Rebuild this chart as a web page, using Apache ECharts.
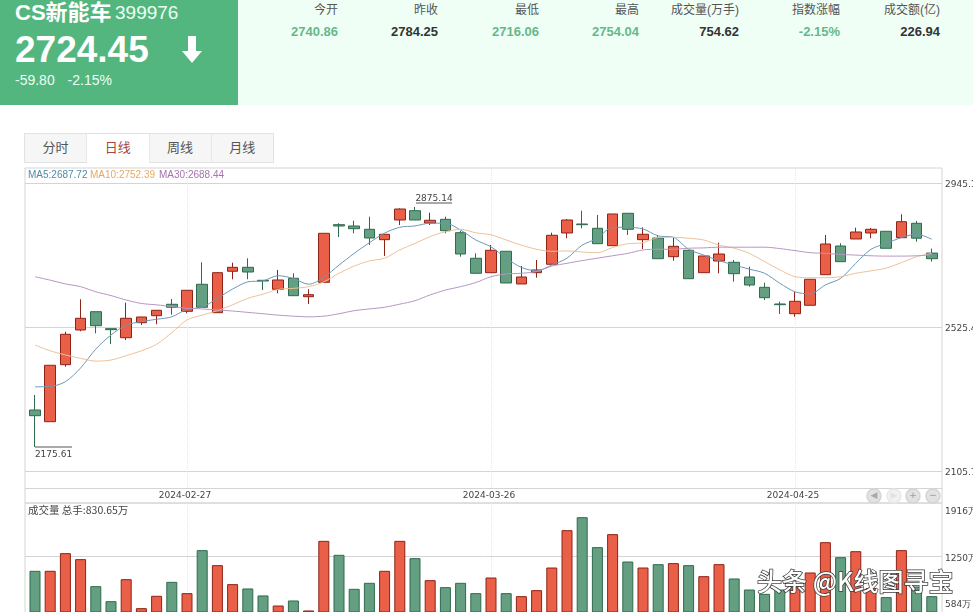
<!DOCTYPE html>
<html>
<head>
<meta charset="utf-8">
<title>CS新能车 399976</title>
<script src="https://cdn.jsdelivr.net/npm/echarts@6/dist/echarts.min.js"></script>
<style>
html, body { margin: 0; padding: 0; background: #fff; overflow: hidden; }
body { width: 973px; height: 612px; position: relative; font-family: "Liberation Sans", "Noto Sans CJK SC", sans-serif; }
#top { position: absolute; left: 0; top: 0; width: 973px; height: 105px; background: #effff5; }
#quote { position: absolute; left: 0; top: 0; width: 238px; height: 105px; background: #54b67f; color: #fff; }
#quote div, #quote svg { position: absolute; white-space: nowrap; }
#name { left: 15px; top: 1px; font-size: 22px; line-height: 24px; font-weight: bold; }
#code { left: 115px; top: 1px; font-size: 19px; line-height: 24px; color: #eafff2; }
#price { left: 15px; top: 29px; font-size: 37px; line-height: 42px; font-weight: bold; }
#change { left: 15px; top: 71px; font-size: 14px; line-height: 18px; color: #eafff2; word-spacing: 9px; }
.stat { position: absolute; top: 0; width: 100px; text-align: right; }
.stat .k { position: absolute; right: 0; top: 1px; font-size: 12px; line-height: 18px; color: #555; white-space: nowrap; }
.stat .v { position: absolute; right: 0; top: 23px; font-size: 13px; line-height: 18px; font-weight: bold; color: #333; }
.stat .v.down { color: #67b78c; }
#tabs { position: absolute; left: 24px; top: 133px; height: 28px; width: 248px; background: #f6f6f6; border: 1px solid #e2e2e2; display: flex; }
#tabs span { flex: 1; text-align: center; font-size: 13px; line-height: 28px; color: #555; border-right: 1px solid #e8e8e8; }
#tabs span:last-child { border-right: 0; }
#tabs span.on { background: #fff; color: #a8443c; height: 29px; }
#chart { position: absolute; left: 0; top: 0; width: 973px; height: 612px; }
</style>
</head>
<body>
<div id="top">
  <div id="quote">
    <div id="name">CS新能车</div>
    <div id="code">399976</div>
    <div id="price">2724.45</div>
    <svg style="left:181px;top:36px" width="22" height="28" viewBox="0 0 22 28"><path d="M7 0h8v15h6L11 27 1 15h6z" fill="#fff"/></svg>
    <div id="change">-59.80 -2.15%</div>
  </div>
  <div id="stats"></div>
</div>
<div id="tabs"><span>分时</span><span class="on">日线</span><span>周线</span><span>月线</span></div>
<div id="chart"></div>
<script>
var statNames = ['今开', '昨收', '最低', '最高', '成交量(万手)', '指数涨幅', '成交额(亿)'];
var statValues = ['2740.86', '2784.25', '2716.06', '2754.04', '754.62', '-2.15%', '226.94'];
var statDown = [true, false, true, true, false, true, false];
var statRight = [338, 438, 539, 639, 739, 840, 940];

var dates = ['2024-02-05','2024-02-06','2024-02-07','2024-02-08','2024-02-19','2024-02-20','2024-02-21','2024-02-22','2024-02-23','2024-02-26',
  '2024-02-27','2024-02-28','2024-02-29','2024-03-01','2024-03-04','2024-03-05','2024-03-06','2024-03-07','2024-03-08','2024-03-11',
  '2024-03-12','2024-03-13','2024-03-14','2024-03-15','2024-03-18','2024-03-19','2024-03-20','2024-03-21','2024-03-22','2024-03-25',
  '2024-03-26','2024-03-27','2024-03-28','2024-03-29','2024-04-01','2024-04-02','2024-04-03','2024-04-08','2024-04-09','2024-04-10',
  '2024-04-11','2024-04-12','2024-04-15','2024-04-16','2024-04-17','2024-04-18','2024-04-19','2024-04-22','2024-04-23','2024-04-24',
  '2024-04-25','2024-04-26','2024-04-29','2024-04-30','2024-05-06','2024-05-07','2024-05-08','2024-05-09','2024-05-10','2024-05-13'];
var labelDates = ['2024-02-27', '2024-03-26', '2024-04-25'];

// open, close, low, high
var candles = [
  [2283.5,2266.9,2175.61,2327.2],[2249.4,2413.8,2249.4,2413.8],[2415.6,2504.2,2409.7,2511.7],[2516.7,2550.8,2512.9,2606.2],
  [2570.0,2529.2,2507.1,2570.0],[2520.5,2517.6,2475.9,2520.5],[2494.2,2550.8,2487.5,2596.3],[2538.0,2554.6,2531.3,2554.6],
  [2558.4,2574.1,2533.3,2574.1],[2591.6,2582.9,2561.3,2607.0],[2571.2,2632.4,2565.4,2632.4],[2649.9,2582.9,2582.9,2714.0],
  [2567.1,2683.7,2567.1,2685.7],[2687.8,2699.4,2664.5,2712.8],[2699.4,2685.7,2664.5,2725.7],[2661.5,2659.5,2633.3,2662.4],
  [2635.3,2662.4,2623.6,2691.6],[2667.4,2616.7,2616.7,2681.9],[2613.7,2619.6,2592.5,2635.3],[2655.7,2798.5,2655.7,2798.5],
  [2823.6,2819.8,2787.7,2827.7],[2819.8,2811.9,2798.5,2835.2],[2810.2,2784.8,2764.4,2846.9],[2779.9,2795.6,2732.4,2795.6],
  [2837.3,2869.3,2822.7,2871.4],[2864.4,2837.3,2837.3,2875.14],[2828.5,2836.4,2822.7,2858.6],[2839.3,2806.1,2798.5,2846.9],
  [2800.3,2738.2,2730.3,2805.2],[2725.7,2681.9,2681.9,2740.2],[2683.7,2749.0,2683.7,2764.4],[2746.1,2653.7,2653.7,2746.1],
  [2650.8,2671.2,2650.8,2703.2],[2683.7,2691.6,2669.1,2720.7],[2708.2,2792.7,2708.2,2800.3],[2799.4,2837.3,2784.0,2840.2],
  [2825.6,2823.6,2813.1,2864.4],[2813.1,2768.2,2768.2,2851.9],[2762.4,2854.8,2762.4,2854.8],[2856.8,2810.2,2793.6,2856.8],
  [2779.9,2795.6,2752.8,2816.0],[2784.8,2724.5,2724.5,2793.6],[2730.3,2760.6,2718.7,2785.7],[2749.0,2666.2,2665.3,2749.0],
  [2683.7,2732.4,2683.7,2732.4],[2717.8,2738.2,2681.9,2771.1],[2714.0,2680.8,2657.5,2720.7],[2671.2,2647.8,2642.9,2701.2],
  [2641.1,2610.8,2604.1,2654.5],[2592.5,2590.4,2563.3,2599.2],[2564.2,2600.3,2555.5,2628.3],[2588.7,2664.5,2588.7,2664.5],
  [2677.9,2767.3,2677.9,2793.6],[2761.5,2715.8,2715.8,2769.4],[2781.9,2802.3,2781.9,2814.8],[2799.4,2810.2,2784.0,2814.0],
  [2804.4,2754.8,2754.8,2804.4],[2785.7,2832.3,2785.7,2853.9],[2827.7,2784.25,2774.0,2834.4],[2740.86,2724.45,2716.06,2754.04]
];

var ma5 = [2351,2352,2366,2406,2461,2502,2531,2541,2548,2555,2577,2583,2609,2636,2657,2660,2675,2667,2650,2670,
  2706,2740,2771,2799,2816,2820,2828,2828,2808,2779,2759,2726,2699,2689,2706,2726,2764,2784,2816,2816,
  2811,2791,2787,2752,2735,2719,2706,2694,2682,2653,2628,2622,2648,2667,2711,2752,2769,2786,2796,2781];
var ma10 = [2473,2456,2444,2434,2426,2429,2442,2456,2475,2509,2546,2560,2573,2590,2609,2621,2635,2638,2643,2657,
  2682,2703,2718,2726,2750,2769,2789,2803,2810,2800,2794,2779,2764,2752,2746,2747,2744,2742,2757,2768,
  2771,2786,2787,2784,2779,2764,2755,2740,2716,2692,2672,2669,2669,2672,2682,2689,2697,2713,2730,2740];
var ma30 = [2672,2662,2651,2643,2628,2617,2604,2594,2590,2585,2580,2578,2575,2572,2568,2564,2560,2557,2555,2557,
  2564,2573,2578,2583,2592,2602,2619,2633,2643,2655,2672,2680,2682,2687,2703,2711,2719,2726,2733,2740,
  2750,2752,2752,2755,2756,2758,2758,2758,2758,2754,2748,2742,2740,2737,2735,2733,2732,2732,2733,2736];

// 万手
var volumes = [1045,1045,1298,1212,825,610,925,510,687,887,725,1341,1126,854,792,692,548,620,477,1474,
  1274,787,873,1045,1474,1226,911,811,873,725,949,725,682,768,1092,1627,1813,1384,1570,1178,
  1092,1140,1155,1126,968,1140,935,777,715,777,844,1021,1455,1240,1326,797,668,1341,820,682];

var priceTicks = [2105.7, 2525.4, 2945.1];
var volumeTicks = [584, 1250, 1916];

var UP = '#ea5f48', UP_EDGE = '#8e2416', DOWN = '#639f80', DOWN_EDGE = '#2f6b4e';
var GRID_LINE = '#d4d4d4';
var FONT = '"DejaVu Sans", sans-serif';

var statsHtml = '';
for (var i = 0; i < statNames.length; i++) {
  statsHtml += '<div class="stat" style="left:' + (statRight[i] - 100) + 'px"><div class="k">' + statNames[i] +
    '</div><div class="v' + (statDown[i] ? ' down' : '') + '">' + statValues[i] + '</div></div>';
}
document.getElementById('stats').innerHTML = statsHtml;

var volumeData = volumes.map(function (v, i) {
  var rising = candles[i][1] >= candles[i][0];
  return { value: v, itemStyle: { color: rising ? UP : DOWN, borderColor: rising ? UP_EDGE : DOWN_EDGE } };
});

function dottedLines() {
  return {
    silent: true, symbol: 'none', animation: false, label: { show: false }, z: 1,
    lineStyle: { color: '#e6e6e6', type: 'dotted', width: 1 },
    data: labelDates.map(function (d) { return { xAxis: d }; })
  };
}

function maSeries(name, data, color) {
  return {
    name: name, type: 'line', data: data, xAxisIndex: 0, yAxisIndex: 0, smooth: 0.3, showSymbol: false,
    lineStyle: { width: 1, color: color }, itemStyle: { color: color }, z: 5, animation: false
  };
}

function zoomButton(x, glyph, faded) {
  return [
    { type: 'circle', shape: { cx: x, cy: 496, r: 7 }, style: { fill: faded ? '#f1f1f1' : '#e2e2e2', stroke: faded ? '#e8e8e8' : '#d4d4d4', lineWidth: 1.5 }, z: 20 },
    { type: 'text', x: x, y: 496, style: { text: glyph, fill: faded ? '#e2e2e2' : '#aaa', font: 'bold 9px ' + FONT, align: 'center', verticalAlign: 'middle' }, z: 21 }
  ];
}

var chart = echarts.init(document.getElementById('chart'), null, { renderer: 'canvas' });
chart.setOption({
  animation: false,
  backgroundColor: 'transparent',
  grid: [
    { left: 27.4, width: 912, top: 168, height: 320, outerBoundsMode: 'none' },
    { left: 27.4, width: 912, top: 503, height: 109, outerBoundsMode: 'none' },
    { left: 25, width: 917, top: 168, height: 335, show: true, borderColor: GRID_LINE, borderWidth: 1, backgroundColor: 'transparent', z: 0, outerBoundsMode: 'none' },
    { left: 25, width: 917, top: 503, height: 120, show: true, borderColor: GRID_LINE, borderWidth: 1, backgroundColor: 'transparent', z: 0, outerBoundsMode: 'none' }
  ],
  xAxis: [
    {
      type: 'category', gridIndex: 0, data: dates, boundaryGap: true,
      axisLine: { show: false }, axisTick: { show: false }, splitLine: { show: false },
      axisLabel: {
        margin: 3, color: '#444', fontSize: 9, fontFamily: FONT, padding: [0, 4, 0, 0], hideOverlap: false,
        interval: function (i, v) { return labelDates.indexOf(v) >= 0; }
      }
    },
    { type: 'category', gridIndex: 1, data: dates, boundaryGap: true, show: false },
    { type: 'value', gridIndex: 2, min: 0, max: 1, show: false },
    { type: 'value', gridIndex: 3, min: 0, max: 1, show: false }
  ],
  yAxis: [
    { type: 'value', gridIndex: 0, min: 2056.15, max: 2988.82, show: false },
    { type: 'value', gridIndex: 1, min: 455, max: 2016, show: false },
    {
      type: 'value', gridIndex: 2, position: 'right', min: 2012.43, max: 2988.82, scale: true,
      axisLine: { show: false },
      axisTick: { show: false, customValues: [2056.15, 2105.7, 2525.4, 2945.1] },
      splitLine: { show: true, lineStyle: { color: GRID_LINE, width: 1 } },
      axisLabel: { customValues: priceTicks, margin: 3, verticalAlign: 'top', lineHeight: 4, color: '#444', fontSize: 9, fontFamily: FONT, formatter: function (v) { return v.toFixed(1); } }
    },
    {
      type: 'value', gridIndex: 3, position: 'right', min: 455 - 11 * 14.32, max: 2016, scale: true,
      axisLine: { show: false },
      axisTick: { show: false, customValues: [1250] },
      splitLine: { show: true, lineStyle: { color: GRID_LINE, width: 1 } },
      axisLabel: { customValues: volumeTicks, margin: 3, verticalAlign: 'top', lineHeight: 4, color: '#444', fontSize: 9, fontFamily: FONT, formatter: function (v) { return v + '万'; } }
    }
  ],
  series: [
    {
      name: '日线', type: 'candlestick', data: candles, xAxisIndex: 0, yAxisIndex: 0, barWidth: 11, z: 3,
      itemStyle: { color: UP, color0: DOWN, borderColor: UP_EDGE, borderColor0: DOWN_EDGE, borderWidth: 1 },
      markLine: dottedLines(),
      markPoint: {
        silent: true, animation: false,
        data: [
          {
            coord: ['2024-03-19', 2875.14], symbol: 'rect', symbolSize: [36, 1], symbolOffset: [19, -4],
            itemStyle: { color: '#555' },
            label: { show: true, formatter: '2875.14', position: 'top', distance: 1, offset: [0, 2], color: '#444', fontSize: 9, fontFamily: FONT }
          },
          {
            coord: ['2024-02-05', 2175.61], symbol: 'rect', symbolSize: [37, 1], symbolOffset: [18.5, 0],
            itemStyle: { color: '#555' },
            label: { show: true, formatter: '2175.61', position: 'bottom', distance: 3, color: '#444', fontSize: 9, fontFamily: FONT }
          }
        ]
      }
    },
    maSeries('MA5', ma5, '#6c97b4'),
    maSeries('MA10', ma10, '#edc098'),
    maSeries('MA30', ma30, '#b695c4'),
    {
      name: '成交量', type: 'bar', data: volumeData, xAxisIndex: 1, yAxisIndex: 1, barWidth: 11, z: 3,
      itemStyle: { borderWidth: 1 }, markLine: dottedLines()
    }
  ],
  graphic: [
    { type: 'text', x: 28, y: 175, style: { text: 'MA5:2687.72', fill: '#4f8aa8', font: '10px "Liberation Sans"', verticalAlign: 'middle' }, z: 20 },
    { type: 'text', x: 90, y: 175, style: { text: 'MA10:2752.39', fill: '#e3ab63', font: '10px "Liberation Sans"', verticalAlign: 'middle' }, z: 20 },
    { type: 'text', x: 159, y: 175, style: { text: 'MA30:2688.44', fill: '#a772b0', font: '10px "Liberation Sans"', verticalAlign: 'middle' }, z: 20 },
    { type: 'text', x: 28, y: 510, style: { text: '成交量 总手:830.65万', fill: '#444', font: '10.5px "Noto Sans CJK SC"', verticalAlign: 'middle' }, z: 20 }
  ].concat(zoomButton(874, '◀', false), zoomButton(894, '▶', true), zoomButton(913, '+', false), zoomButton(933, '−', false), [
    { type: 'text', x: 757, y: 581, style: { text: '头条 @K线图寻宝', fill: '#fff', stroke: '#3a3a3a', lineWidth: 1.5, font: '500 25px "Noto Sans CJK SC"', verticalAlign: 'middle' }, z: 30 }
  ])
});
</script>
</body>
</html>
